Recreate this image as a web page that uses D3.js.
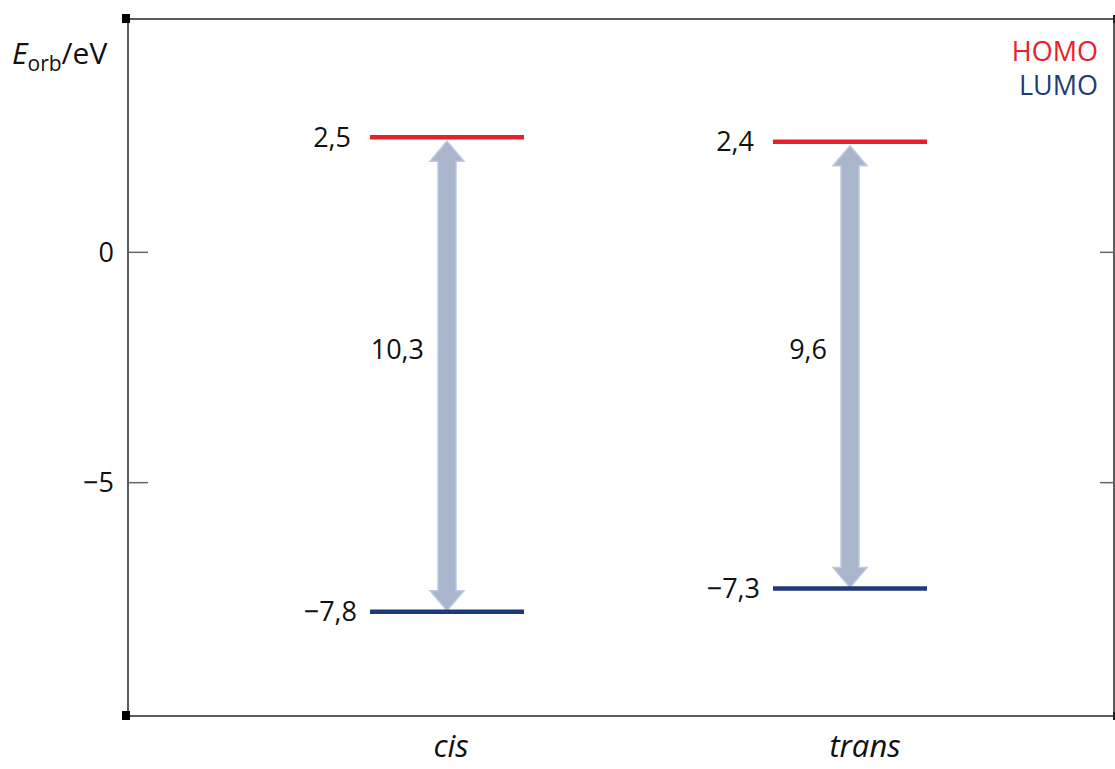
<!DOCTYPE html>
<html>
<head>
<meta charset="utf-8">
<script src="https://cdn.jsdelivr.net/npm/d3@7"></script>
<style>
  html, body { margin: 0; padding: 0; background: #fff; }
  svg { display: block; }
  text { font-family: "Open Sans", Lato, "Liberation Sans", sans-serif; }
</style>
</head>
<body>
<svg id="chart" width="1115" height="769"></svg>
<script>
// ---- data ----
const categories = ["cis", "trans"];
const homo = [2.5, 2.4];
const lumo = [-7.8, -7.3];
const gaps = ["10,3", "9,6"];
const homoLabels = ["2,5", "2,4"];
const lumoLabels = ["\u22127,8", "\u22127,3"];
const yTicks = [0, -5];
const yTickLabels = ["0", "\u22125"];
const legendNames = ["HOMO", "LUMO"];
const gapLabelLevel = -2.1;

// ---- layout ----
const frame = { left: 128, top: 19, right: 1114, bottom: 716 };
const svg = d3.select("#chart");

const y = d3.scaleLinear().domain([-10, 5]).range([713, 22]);
const x = d3.scalePoint().domain(categories).range([447, 850]);
const levelHalf = 77;
const colHomo = "#e8202a", colLumo = "#1f3a7a";
const fs = 27;

// frame
svg.append("rect")
  .attr("x", frame.left).attr("y", frame.top)
  .attr("width", frame.right - frame.left).attr("height", frame.bottom - frame.top)
  .attr("fill", "none").attr("stroke", "#4a4a4a").attr("stroke-width", 1.8);

// corner markers
[[frame.left, frame.top], [frame.left, frame.bottom]].forEach(([cx, cy]) => {
  svg.append("rect").attr("x", cx - 6).attr("y", cy - 5).attr("width", 8).attr("height", 9).attr("fill", "#000");
});
svg.append("rect").attr("x", frame.right - 1).attr("y", frame.top - 4).attr("width", 3).attr("height", 8).attr("fill", "#222");
svg.append("rect").attr("x", frame.right - 1).attr("y", frame.bottom - 4).attr("width", 3).attr("height", 8).attr("fill", "#222");

// ticks
const tickG = svg.append("g");
yTicks.forEach((t, i) => {
  tickG.append("line").attr("x1", frame.left).attr("x2", frame.left + 20)
    .attr("y1", y(t)).attr("y2", y(t)).attr("stroke", "#666").attr("stroke-width", 1.5);
  tickG.append("line").attr("x1", frame.right - 14).attr("x2", frame.right)
    .attr("y1", y(t)).attr("y2", y(t)).attr("stroke", "#666").attr("stroke-width", 1.5);
  tickG.append("text").attr("x", 114).attr("y", y(t)).attr("dy", "0.35em")
    .attr("text-anchor", "end").attr("font-size", fs).attr("fill", "#111").text(yTickLabels[i]);
});

// y axis title
const yt = svg.append("text").attr("x", 12).attr("y", 64).attr("font-size", 30).attr("fill", "#111");
yt.append("tspan").attr("font-style", "italic").text("E");
yt.append("tspan").attr("font-size", 21).attr("dy", 7).text("orb");
yt.append("tspan").attr("dy", -7).text("/eV");

// arrows
function arrowPath(cx, y0, y1) {
  const sw = 9, hw = 17, hl = 20;
  return `M${cx},${y0} L${cx + hw},${y0 + hl} L${cx + sw},${y0 + hl} L${cx + sw},${y1 - hl} L${cx + hw},${y1 - hl} L${cx},${y1} L${cx - hw},${y1 - hl} L${cx - sw},${y1 - hl} L${cx - sw},${y0 + hl} L${cx - hw},${y0 + hl} Z`;
}
categories.forEach((c, i) => {
  svg.append("path")
    .attr("d", arrowPath(x(c), y(homo[i]) + 4, y(lumo[i]) - 1))
    .attr("fill", "#a9b5ca").attr("stroke", "#b9cae6").attr("stroke-width", 1.5);
});

// levels
categories.forEach((c, i) => {
  const cx = x(c);
  svg.append("line").attr("x1", cx - levelHalf).attr("x2", cx + levelHalf)
    .attr("y1", y(homo[i])).attr("y2", y(homo[i])).attr("stroke", colHomo).attr("stroke-width", 4.5);
  svg.append("line").attr("x1", cx - levelHalf).attr("x2", cx + levelHalf)
    .attr("y1", y(lumo[i])).attr("y2", y(lumo[i])).attr("stroke", colLumo).attr("stroke-width", 4.5);
  svg.append("text").attr("x", cx - levelHalf - 19).attr("y", y(homo[i])).attr("dy", "0.35em")
    .attr("text-anchor", "end").attr("font-size", fs).attr("fill", "#111").text(homoLabels[i]);
  svg.append("text").attr("x", cx - levelHalf - 13).attr("y", y(lumo[i])).attr("dy", "0.35em")
    .attr("text-anchor", "end").attr("font-size", fs).attr("fill", "#111").text(lumoLabels[i]);
  svg.append("text").attr("x", cx - 23).attr("y", y(gapLabelLevel)).attr("dy", "0.35em")
    .attr("text-anchor", "end").attr("font-size", fs).attr("fill", "#111").text(gaps[i]);
  svg.append("text").attr("x", cx + (i === 0 ? 4 : 15)).attr("y", 757)
    .attr("text-anchor", "middle").attr("font-size", 31).attr("font-style", "italic")
    .attr("fill", "#111").text(c);
});

// legend
const legendColors = [colHomo, colLumo];
legendNames.forEach((n, i) => {
  svg.append("text").attr("x", 1098).attr("y", 52 + i * 34).attr("dy", "0.35em")
    .attr("text-anchor", "end").attr("font-size", fs).attr("fill", legendColors[i]).text(n);
});
</script>
</body>
</html>
